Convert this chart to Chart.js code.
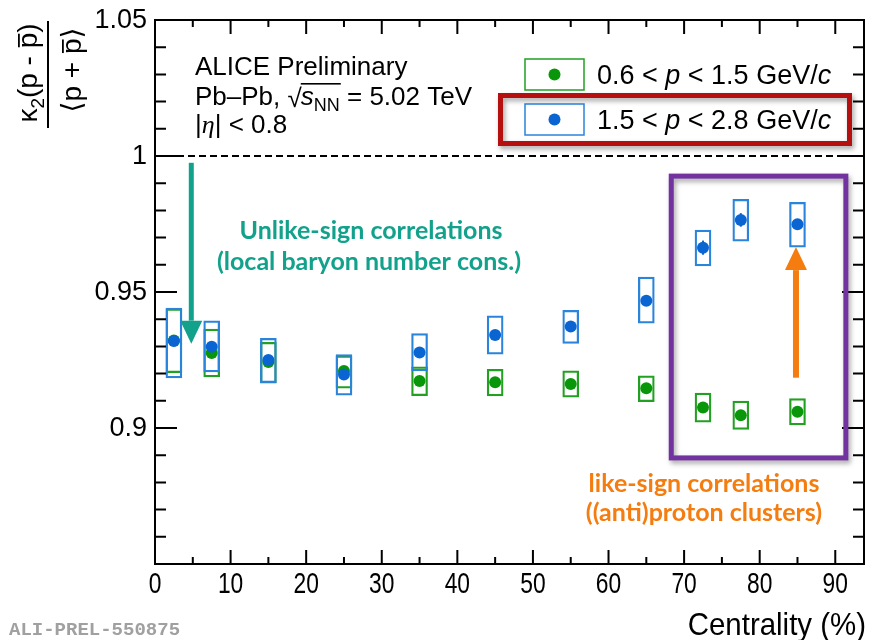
<!DOCTYPE html>
<html lang="en">
<head>
<meta charset="UTF-8">
<title>ALICE kappa2 ratio vs centrality</title>
<script src="https://cdn.jsdelivr.net/npm/chart.js"></script>
<style>
  html, body { margin: 0; padding: 0; background: #fff; }
  #wrap { width: 870px; height: 640px; position: relative; }
</style>
</head>
<body>
<div id="wrap"><canvas id="kappaChart" width="870" height="640"></canvas></div>
<script>
// centrality bin centres (%)
const centrality = [2.5, 7.5, 15, 25, 35, 45, 55, 65, 72.5, 77.5, 85];

// 0.6 < p < 1.5 GeV/c
const lowPt        = [0.9322, 0.9276, 0.9243, 0.9210, 0.9173, 0.9168, 0.9162, 0.9146, 0.9075, 0.9047, 0.9060];
const lowPtStat    = [0.0010, 0.0010, 0.0010, 0.0010, 0.0010, 0.0010, 0.0010, 0.0010, 0.0012, 0.0012, 0.0012];
const lowPtSysLo   = [0.9203, 0.9188, 0.9165, 0.9146, 0.9119, 0.9118, 0.9113, 0.9097, 0.9021, 0.8995, 0.9011];
const lowPtSysHi   = [0.9438, 0.9364, 0.9315, 0.9265, 0.9225, 0.9216, 0.9210, 0.9192, 0.9128, 0.9099, 0.9108];

// 1.5 < p < 2.8 GeV/c
const highPt       = [0.9320, 0.9299, 0.9250, 0.9197, 0.9278, 0.9342, 0.9373, 0.9468, 0.9663, 0.9765, 0.9749];
const highPtStat   = [0.0015, 0.0015, 0.0010, 0.0010, 0.0012, 0.0012, 0.0012, 0.0015, 0.0026, 0.0025, 0.0018];
const highPtSysLo  = [0.9184, 0.9206, 0.9167, 0.9121, 0.9210, 0.9271, 0.9311, 0.9385, 0.9596, 0.9687, 0.9665];
const highPtSysHi  = [0.9441, 0.9394, 0.9330, 0.9270, 0.9347, 0.9412, 0.9433, 0.9555, 0.9728, 0.9841, 0.9830];

// axes
const xRange = [0, 93.8];
const yRange = [0.85, 1.05];
const xTicks = [0, 10, 20, 30, 40, 50, 60, 70, 80, 90];
const yTicks = [0.9, 0.95, 1, 1.05];
const yTickLabels = ['0.9', '0.95', '1', '1.05'];

const GREEN = '#0a960a', GREEN_BOX = '#22a022';
const BLUE = '#0a64d2', BLUE_BOX = '#2a84dc';
const TEAL = '#12a28c', ORANGE = '#f57c0f';
const SANS = '"Liberation Sans", Arial, Helvetica, sans-serif';
const CAL = 'Lato, "Open Sans", sans-serif';

const pts = (ys) => centrality.map((x, i) => ({ x, y: ys[i] }));
const boxes = (lo, hi) => centrality.map((x, i) => ({ x, y: [lo[i], hi[i]] }));

// draw a row of text pieces; piece.bar = height of an overline above baseline
function runs(ctx, parts, x, y, measureOnly) {
  let cx = x;
  for (const p of parts) {
    ctx.font = p.font;
    const w = ctx.measureText(p.text).width;
    if (!measureOnly) {
      ctx.fillText(p.text, cx, y + (p.dy || 0));
      if (p.bar) {
        ctx.fillRect(cx + 1, y - p.bar, w - 2, 1.8);
      }
    }
    cx += w + (p.gap || 0);
  }
  return cx - x;
}

const errorBars = {
  id: 'errorBars',
  beforeDatasetsDraw(chart) {
    const { ctx, scales: { x, y } } = chart;
    ctx.save();
    ctx.lineWidth = 2;
    [[lowPt, lowPtStat, GREEN], [highPt, highPtStat, BLUE]].forEach(([vals, errs, col]) => {
      ctx.strokeStyle = col;
      centrality.forEach((c, i) => {
        const px = x.getPixelForValue(c);
        ctx.beginPath();
        ctx.moveTo(px, y.getPixelForValue(vals[i] - errs[i]));
        ctx.lineTo(px, y.getPixelForValue(vals[i] + errs[i]));
        ctx.stroke();
      });
    });
    ctx.restore();
  }
};

const frame = {
  id: 'frame',
  afterDraw(chart) {
    const { ctx, chartArea: a, scales: { x, y } } = chart;
    ctx.save();

    // unity reference
    ctx.strokeStyle = '#000';
    ctx.lineWidth = 2;
    ctx.setLineDash([7, 4]);
    ctx.beginPath();
    ctx.moveTo(a.left, y.getPixelForValue(1));
    ctx.lineTo(a.right, y.getPixelForValue(1));
    ctx.stroke();
    ctx.setLineDash([]);

    // frame and inward ticks
    ctx.strokeRect(a.left, a.top, a.right - a.left, a.bottom - a.top);
    ctx.beginPath();
    for (let v = 0; v <= xRange[1]; v += 5) {
      const px = x.getPixelForValue(v);
      const len = v % 10 === 0 ? 14 : 7;
      ctx.moveTo(px, a.bottom); ctx.lineTo(px, a.bottom - len);
      ctx.moveTo(px, a.top); ctx.lineTo(px, a.top + len);
    }
    for (let k = 0; k <= 20; k++) {
      const py = y.getPixelForValue(yRange[0] + k * 0.01);
      const len = k % 5 === 0 ? 22 : 11;
      ctx.moveTo(a.left, py); ctx.lineTo(a.left + len, py);
      ctx.moveTo(a.right, py); ctx.lineTo(a.right - len, py);
    }
    ctx.stroke();

    // tick labels
    ctx.fillStyle = '#000';
    ctx.font = '27px ' + SANS;
    ctx.textAlign = 'right';
    ctx.textBaseline = 'middle';
    yTicks.forEach((v, i) => ctx.fillText(yTickLabels[i], a.left - 8, y.getPixelForValue(v) + 1));
    ctx.textAlign = 'center';
    ctx.textBaseline = 'alphabetic';
    ctx.font = '30px ' + SANS;
    xTicks.forEach((v) => {
      ctx.save();
      ctx.translate(x.getPixelForValue(v), 593);
      ctx.scale(0.76, 1);
      ctx.fillText(String(v), 0, 0);
      ctx.restore();
    });

    // x title
    ctx.save();
    ctx.translate(866, 635);
    ctx.scale(0.92, 1);
    ctx.textAlign = 'right';
    ctx.font = '32px ' + SANS;
    ctx.fillText('Centrality (%)', 0, 0);
    ctx.restore();

    // y title: kappa2(p - pbar) / <p + pbar>
    ctx.textAlign = 'left';
    const F = '28px ' + SANS, FS = '19px ' + SANS, FB = '28px "DejaVu Sans", sans-serif';
    const num = [
      { text: 'κ', font: F }, { text: '2', font: FS, dy: 7 },
      { text: '(p - ', font: F }, { text: 'p', font: F, bar: 19 }, { text: ')', font: F }
    ];
    const den = [
      { text: '⟨', font: FB }, { text: 'p + ', font: F },
      { text: 'p', font: F, bar: 19 }, { text: '⟩', font: FB }
    ];
    ctx.save();
    ctx.translate(37, 73);
    ctx.rotate(-Math.PI / 2);
    const wn = runs(ctx, num, 0, 0, true);
    runs(ctx, num, -wn / 2, 0);
    ctx.restore();
    ctx.save();
    ctx.translate(81, 70);
    ctx.rotate(-Math.PI / 2);
    const wd = runs(ctx, den, 0, 0, true);
    runs(ctx, den, -wd / 2, 0);
    ctx.restore();
    ctx.fillRect(47, 21, 2, 107);

    // header text
    const T = '26px ' + SANS, TI = 'italic 26px ' + SANS;
    ctx.font = T;
    ctx.fillText('ALICE Preliminary', 195, 75);
    let cx = 195;
    cx += runs(ctx, [{ text: 'Pb–Pb, ', font: T }], cx, 105);
    ctx.font = T;
    ctx.fillText('√', cx, 107);
    cx += ctx.measureText('√').width - 1;
    const sw = runs(ctx, [{ text: 's', font: TI }, { text: 'NN', font: '18px ' + SANS, dy: 6 }], cx, 105);
    ctx.fillRect(cx, 83, sw + 1, 1.6);
    cx += sw;
    runs(ctx, [{ text: ' = 5.02 TeV', font: T }], cx, 105);
    runs(ctx, [
      { text: '|', font: T }, { text: 'η', font: 'italic 26px "Liberation Serif", serif' },
      { text: '| < 0.8', font: T }
    ], 195, 133);

    // legend
    const L = '27px ' + SANS, LI = 'italic 27px ' + SANS;
    [[GREEN_BOX, GREEN, 59, '0.6', '1.5'], [BLUE_BOX, BLUE, 104, '1.5', '2.8']].forEach(([bc, dc, top, lo, hi]) => {
      ctx.strokeStyle = bc;
      ctx.lineWidth = 1.5;
      ctx.strokeRect(525, top, 59, 31);
      ctx.fillStyle = dc;
      ctx.beginPath();
      ctx.arc(554.5, top + 15.5, 6, 0, Math.PI * 2);
      ctx.fill();
      ctx.fillStyle = '#000';
      runs(ctx, [
        { text: lo + ' < ', font: L }, { text: 'p', font: LI },
        { text: ' < ' + hi + ' GeV/', font: L }, { text: 'c', font: LI }
      ], 597, top + 25);
    });

    // highlight frames
    ctx.save();
    ctx.shadowColor = 'rgba(0,0,0,0.35)';
    ctx.shadowBlur = 5;
    ctx.shadowOffsetX = 2;
    ctx.shadowOffsetY = 3;
    ctx.lineWidth = 5;
    ctx.strokeStyle = '#b50f0f';
    ctx.strokeRect(500.5, 95.5, 349, 48);
    ctx.strokeStyle = '#7232a0';
    const bx0 = x.getPixelForValue(68.3), bx1 = x.getPixelForValue(91.4);
    const by0 = y.getPixelForValue(0.9926), by1 = y.getPixelForValue(0.889);
    ctx.strokeRect(bx0, by0, bx1 - bx0, by1 - by0);
    ctx.restore();

    // arrows
    const arrow = (xv, y0, y1, col, w, head, hw) => {
      const px = x.getPixelForValue(xv), p0 = y.getPixelForValue(y0), p1 = y.getPixelForValue(y1);
      const dir = Math.sign(p1 - p0);
      ctx.fillStyle = col;
      ctx.fillRect(px - w / 2, Math.min(p0, p1 - dir * head), w, Math.abs(p1 - dir * head - p0));
      ctx.beginPath();
      ctx.moveTo(px - hw, p1 - dir * head);
      ctx.lineTo(px + hw, p1 - dir * head);
      ctx.lineTo(px, p1);
      ctx.closePath();
      ctx.fill();
    };
    arrow(4.8, 0.9975, 0.9310, TEAL, 5, 23, 11);
    arrow(84.8, 0.9185, 0.9665, ORANGE, 6, 23, 11);

    // annotation text
    ctx.textAlign = 'center';
    ctx.font = 'bold 25px ' + CAL;
    ctx.fillStyle = TEAL;
    ctx.fillText('Unlike-sign correlations', 371, 239);
    ctx.fillText('(local baryon number cons.)', 369, 270);
    ctx.fillStyle = ORANGE;
    ctx.fillText('like-sign correlations', 704, 492);
    ctx.fillText('((anti)proton clusters)', 704, 521);

    // preliminary tag
    ctx.textAlign = 'left';
    ctx.fillStyle = '#a0a0a0';
    ctx.font = 'bold 19px "Liberation Mono", "DejaVu Sans Mono", monospace';
    ctx.fillText('ALI-PREL-550875', 9, 635);

    ctx.restore();
  }
};

new Chart(document.getElementById('kappaChart'), {
  type: 'scatter',
  data: {
    datasets: [
      { type: 'scatter', label: '1.5 < p < 2.8 GeV/c', data: pts(highPt), order: 0,
        pointRadius: 6, pointHoverRadius: 6, pointBorderWidth: 0, backgroundColor: BLUE },
      { type: 'scatter', label: '0.6 < p < 1.5 GeV/c', data: pts(lowPt), order: 1,
        pointRadius: 6, pointHoverRadius: 6, pointBorderWidth: 0, backgroundColor: GREEN },
      { type: 'bar', label: 'sys high', data: boxes(highPtSysLo, highPtSysHi), order: 2,
        grouped: false, barThickness: 16, borderWidth: 1.6, borderSkipped: false,
        borderColor: BLUE_BOX, backgroundColor: 'rgba(0,0,0,0)' },
      { type: 'bar', label: 'sys low', data: boxes(lowPtSysLo, lowPtSysHi), order: 3,
        grouped: false, barThickness: 16, borderWidth: 1.6, borderSkipped: false,
        borderColor: GREEN_BOX, backgroundColor: 'rgba(0,0,0,0)' }
    ]
  },
  options: {
    responsive: false,
    animation: false,
    devicePixelRatio: 1,
    layout: { padding: { left: 155, top: 20, right: 4, bottom: 76 } },
    scales: {
      x: { type: 'linear', min: xRange[0], max: xRange[1], offset: false, display: false },
      y: { type: 'linear', min: yRange[0], max: yRange[1], display: false }
    },
    plugins: { legend: { display: false }, tooltip: { enabled: false } }
  },
  plugins: [errorBars, frame]
});
</script>
</body>
</html>
